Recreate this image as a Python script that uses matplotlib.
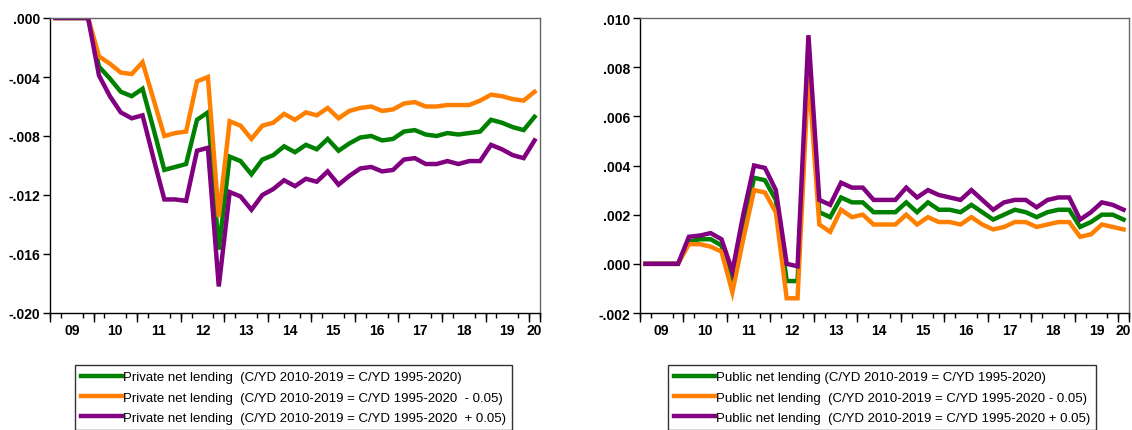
import matplotlib
matplotlib.use("Agg")
import matplotlib.pyplot as plt
from matplotlib.ticker import FuncFormatter

# quarterly data 2009Q1 - 2020Q1
years = ['09', '10', '11', '12', '13', '14', '15', '16', '17', '18', '19', '20']

private_base = [0, 0, 0, 0, -0.0033, -0.0041, -0.0050, -0.0053, -0.0048, -0.0075,
                -0.0103, -0.0101, -0.0099, -0.0069, -0.0064, -0.0157, -0.0094, -0.0097,
                -0.0106, -0.0096, -0.0093, -0.0087, -0.0091, -0.0086, -0.0089, -0.0082,
                -0.0090, -0.0085, -0.0081, -0.0080, -0.0083, -0.0082, -0.0077, -0.0076,
                -0.0079, -0.0080, -0.0078, -0.0079, -0.0078, -0.0077, -0.0069, -0.0071,
                -0.0074, -0.0076, -0.0067]
private_low = [0, 0, 0, 0, -0.0026, -0.0031, -0.0037, -0.0038, -0.0030, -0.0055,
               -0.0080, -0.0078, -0.0077, -0.0043, -0.0040, -0.0135, -0.0070, -0.0073,
               -0.0082, -0.0073, -0.0071, -0.0065, -0.0069, -0.0064, -0.0066, -0.0061,
               -0.0068, -0.0063, -0.0061, -0.0060, -0.0063, -0.0062, -0.0058, -0.0057,
               -0.0060, -0.0060, -0.0059, -0.0059, -0.0059, -0.0056, -0.0052, -0.0053,
               -0.0055, -0.0056, -0.0050]
private_high = [0, 0, 0, 0, -0.0039, -0.0053, -0.0064, -0.0068, -0.0066, -0.0095,
                -0.0123, -0.0123, -0.0124, -0.0090, -0.0088, -0.0182, -0.0118, -0.0121,
                -0.0130, -0.0120, -0.0116, -0.0110, -0.0114, -0.0109, -0.0111, -0.0104,
                -0.0113, -0.0107, -0.0102, -0.0101, -0.0104, -0.0103, -0.0096, -0.0095,
                -0.0099, -0.0099, -0.0097, -0.0099, -0.0097, -0.0097, -0.0086, -0.0089,
                -0.0093, -0.0095, -0.0083]

public_base = [0, 0, 0, 0, 0.0009, 0.0010, 0.0010, 0.00075, -0.0007, 0.0015,
               0.0035, 0.0034, 0.0026, -0.0007, -0.0007, 0.0085, 0.0021, 0.0019,
               0.0027, 0.0025, 0.0025, 0.0021, 0.0021, 0.0021, 0.0025, 0.0021,
               0.0025, 0.0022, 0.0022, 0.0021, 0.0024, 0.0021, 0.0018, 0.0020,
               0.0022, 0.0021, 0.0019, 0.0021, 0.0022, 0.0022, 0.0015, 0.0017,
               0.0020, 0.0020, 0.0018]
public_low = [0, 0, 0, 0, 0.0008, 0.0008, 0.0007, 0.0005, -0.00115, 0.0010,
              0.0030, 0.0029, 0.0021, -0.0014, -0.0014, 0.0078, 0.0016, 0.0013,
              0.0022, 0.0019, 0.0020, 0.0016, 0.0016, 0.0016, 0.0020, 0.0016,
              0.0019, 0.0017, 0.0017, 0.0016, 0.0019, 0.0016, 0.0014, 0.0015,
              0.0017, 0.0017, 0.0015, 0.0016, 0.0017, 0.0017, 0.0011, 0.0012,
              0.0016, 0.0015, 0.0014]
public_high = [0, 0, 0, 0, 0.0011, 0.00115, 0.00125, 0.0010, -0.0003, 0.0020,
               0.0040, 0.0039, 0.0030, 0.0000, -0.0001, 0.0093, 0.0026, 0.0024,
               0.0033, 0.0031, 0.0031, 0.0026, 0.0026, 0.0026, 0.0031, 0.0027,
               0.0030, 0.0028, 0.0027, 0.0026, 0.0030, 0.0026, 0.0022, 0.0025,
               0.0026, 0.0026, 0.0023, 0.0026, 0.0027, 0.0027, 0.0018, 0.0021,
               0.0025, 0.0024, 0.0022]

private_labels = ['Private net lending  (C/YD 2010-2019 = C/YD 1995-2020)',
                  'Private net lending  (C/YD 2010-2019 = C/YD 1995-2020  - 0.05)',
                  'Private net lending  (C/YD 2010-2019 = C/YD 1995-2020  + 0.05)']
public_labels = ['Public net lending (C/YD 2010-2019 = C/YD 1995-2020)',
                 'Public net lending  (C/YD 2010-2019 = C/YD 1995-2020 - 0.05)',
                 'Public net lending  (C/YD 2010-2019 = C/YD 1995-2020 + 0.05)']

colors = ['#008000', '#ff8000', '#800080']

plt.rcParams['font.family'] = ['Liberation Sans', 'DejaVu Sans']


def fmt(v, pos):
    s = '%.3f' % v
    s = s.replace('0.', '.', 1)
    if s == '-.000':
        s = '.000'
    return s


def draw(ax, series, labels, ylim, yticks, legend_x):
    n = len(series[0])
    x = range(n)
    for s, c, lab in zip(series, colors, labels):
        ax.plot(x, s, color=c, lw=3.2, label=lab, solid_joinstyle='miter')
    ax.set_xlim(-0.5, n - 0.5)
    ax.set_ylim(*ylim)
    ax.set_yticks(yticks)
    ax.yaxis.set_major_formatter(FuncFormatter(fmt))
    ax.tick_params(axis='y', direction='out', length=5, width=1, labelsize=10, pad=2)
    for t in ax.get_yticklabels():
        t.set_fontweight('bold')

    # year labels in the middle of each year, no tick
    centers = [4 * i + 1.5 for i in range(len(years) - 1)] + [n - 1]
    ax.set_xticks(centers)
    ax.set_xticklabels(years, fontweight='bold', fontsize=10)
    ax.tick_params(axis='x', length=0, pad=7)
    # quarter ticks
    ax.set_xticks([k - 0.5 for k in range(n + 1)], minor=True)
    ax.tick_params(axis='x', which='minor', direction='out', length=3.5, width=1)
    # year boundary ticks
    sec = ax.secondary_xaxis('bottom')
    sec.set_xticks([4 * i - 0.5 for i in range(len(years))] + [n - 0.5])
    sec.set_xticklabels([])
    sec.tick_params(direction='out', length=6.5, width=1)
    sec.spines['bottom'].set_visible(False)

    for side in ['top', 'right']:
        ax.spines[side].set_color('#666666')
    for sp in ax.spines.values():
        sp.set_linewidth(1)

    leg = ax.legend(loc='upper left', bbox_to_anchor=(legend_x, 1 - 366 / 431),
                    bbox_transform=ax.figure.transFigure, frameon=True, fancybox=False,
                    edgecolor='black', fontsize=9.5, handlelength=3.1, handletextpad=0.1,
                    labelspacing=0.62, borderpad=0.45, borderaxespad=0)
    leg.get_frame().set_linewidth(1)
    for line in leg.get_lines():
        line.set_linewidth(3.2)


fig = plt.figure(figsize=(11.32, 4.31), dpi=100)
ax1 = fig.add_axes([50 / 1132, 1 - 314 / 431, 490 / 1132, 295 / 431])
ax2 = fig.add_axes([640 / 1132, 1 - 314 / 431, 489 / 1132, 295 / 431])

draw(ax1, [private_base, private_low, private_high], private_labels,
     (-0.020, 0.000), [-0.020, -0.016, -0.012, -0.008, -0.004, 0.000], 75 / 1132)
draw(ax2, [public_base, public_low, public_high], public_labels,
     (-0.002, 0.010), [-0.002, 0.000, 0.002, 0.004, 0.006, 0.008, 0.010], 668 / 1132)

fig.savefig('out.png', dpi=100)
